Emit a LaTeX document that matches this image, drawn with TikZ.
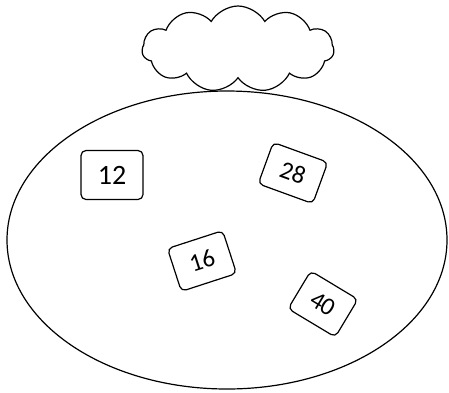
\documentclass[tikz,border=0pt]{standalone}
\usepackage{fontspec}
\setmainfont{Carlito}
\usepackage{tikz}
\usetikzlibrary{shapes.geometric, shapes.symbols}

\begin{document}
\begin{tikzpicture}[x=1pt, y=-1pt,
    numbox/.style={draw, line width=1.2pt, rounded corners=5pt, inner sep=0pt,
        font=\fontsize{25}{27}\selectfont}]
    \useasboundingbox (0,0) rectangle (449,392);

    % Field
    \node[ellipse, draw, line width=1.2pt, minimum width=440pt,
          minimum height=298pt, inner sep=0pt] (field) at (227,240) {};

    % Cloud
    \node[cloud, draw, fill=white, line width=1.2pt, cloud puffs=11,
          cloud puff arc=120, aspect=2.3, minimum width=192pt,
          minimum height=86pt, inner sep=0pt] (cloud) at (238,49) {};

    % Numbers
    \node[numbox, minimum width=62pt, minimum height=49pt,
          font=\fontsize{28}{30}\selectfont] (n12) at (112,175) {12};
    \node[numbox, minimum width=58pt, minimum height=44pt, rotate=-20]
        (n28) at (293,173) {28};
    \node[numbox, minimum width=58pt, minimum height=45pt, rotate=18]
        (n16) at (202,261) {16};
    \node[numbox, minimum width=55pt, minimum height=44pt, rotate=-31]
        (n40) at (323,304) {40};
\end{tikzpicture}
\end{document}
